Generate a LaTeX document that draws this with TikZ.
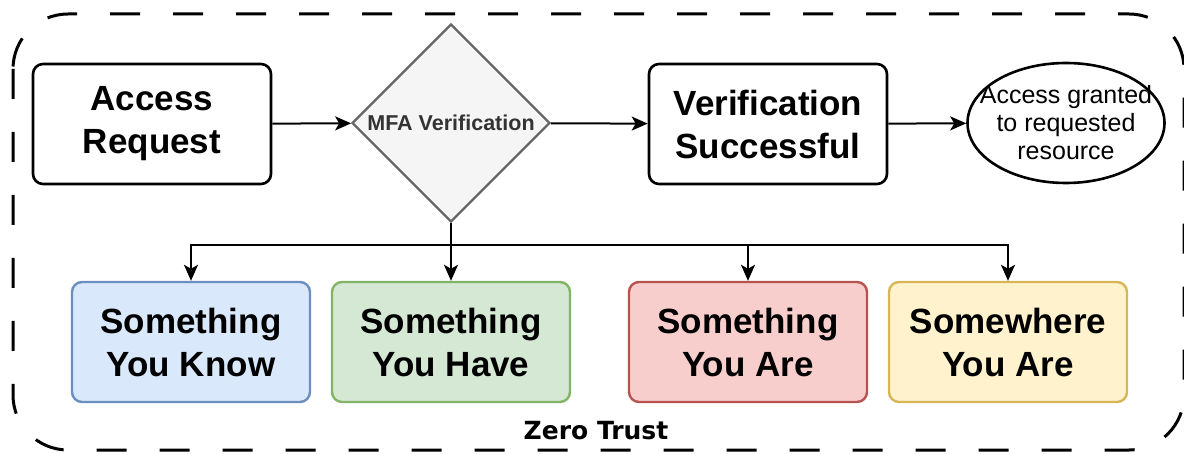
\documentclass[tikz,border=0pt]{standalone}
\usepackage{fontspec}
\setmainfont{Liberation Sans}
\newfontfamily\dejavu{DejaVu Sans}
\usetikzlibrary{shapes.geometric,arrows.meta}

\definecolor{knowfill}{HTML}{DAE8FC}  \definecolor{knowline}{HTML}{6C8EBF}
\definecolor{havefill}{HTML}{D5E8D4}  \definecolor{haveline}{HTML}{82B366}
\definecolor{arefill}{HTML}{F8CECC}   \definecolor{areline}{HTML}{B85450}
\definecolor{wherefill}{HTML}{FFF2CC} \definecolor{whereline}{HTML}{D6B656}
\definecolor{mfafill}{HTML}{F5F5F5}   \definecolor{mfaline}{HTML}{666666}
\definecolor{mfatext}{HTML}{333333}

\begin{document}
\begin{tikzpicture}[x=1pt,y=-1pt,
    box/.style={draw,rounded corners=10pt,line width=2.6pt,minimum width=238pt,minimum height=120pt,
      align=center,font=\fontsize{35}{43}\selectfont\bfseries},
    factor/.style={box,line width=2.4pt,draw=#1line,fill=#1fill},
    link/.style={line width=2pt,-{Stealth[length=16pt,width=14pt,inset=4pt]}}]
    \useasboundingbox (0,0) rectangle (1184,454);
    % zero trust boundary
    \draw[line width=3pt,rounded corners=55pt,dash pattern=on 30pt off 33pt] (13,14) rectangle (1184,450);
    \node[anchor=base,font=\dejavu\bfseries\fontsize{25}{30}\selectfont] (zt) at (596,439) {Zero Trust};
    % top row
    \node[box] (request) at (152,124) {Access\\Request};
    \node[diamond,draw=mfaline,fill=mfafill,line width=2.4pt,minimum width=198pt,minimum height=198pt,
      inner sep=0pt,text=mfatext,font=\fontsize{21.5}{24}\selectfont\bfseries] (mfa) at (451,123) {MFA Verification};
    \node[box] (success) at (768,124) {Verification\\Successful};
    \node[ellipse,draw,line width=2.6pt,minimum width=197pt,minimum height=120pt] (granted) at (1066,123) {};
    \node[align=center,font=\fontsize{25}{28}\selectfont] (grantedtext) at (granted) {Access granted\\to requested\\resource};
    \draw[link] (request) -- (mfa);
    \draw[link] (mfa) -- (success);
    \draw[link] (success) -- (granted);
    % factors
    \node[factor=know] (know) at (191,342) {Something\\You Know};
    \node[factor=have] (have) at (451,342) {Something\\You Have};
    \node[factor=are] (are) at (748,342) {Something\\You Are};
    \node[factor=where] (where) at (1008,342) {Somewhere\\You Are};
    \coordinate (fork) at (451,245);
    \draw[link] (mfa.south) -- (have.north);
    \draw[link] (fork) -| (know.north);
    \draw[link] (fork) -| (are.north);
    \draw[link] (fork) -| (where.north);
\end{tikzpicture}
\end{document}
